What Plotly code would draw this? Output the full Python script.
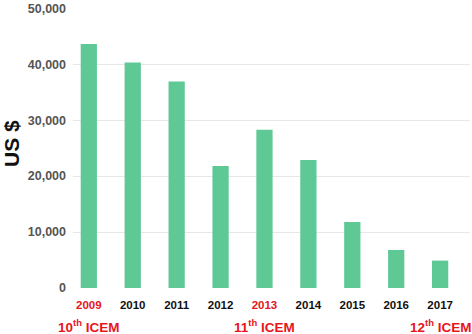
import plotly.graph_objects as go

years = ["2009", "2010", "2011", "2012", "2013", "2014", "2015", "2016", "2017"]
values = [43600, 40300, 36900, 21800, 28300, 22900, 11800, 6800, 4900]
highlight_years = ["2009", "2013"]
y_ticks = [0, 10000, 20000, 30000, 40000, 50000]
y_tick_labels = ["0", "10,000", "20,000", "30,000", "40,000", "50,000"]
icem_labels = ["10<sup>th</sup> ICEM", "11<sup>th</sup> ICEM", "12<sup>th</sup> ICEM"]
icem_years = ["2009", "2013", "2017"]

tick_text = [
    f"<b><span style='color:#e8151b'>{y}</span></b>" if y in highlight_years else f"<b>{y}</b>"
    for y in years
]

fig = go.Figure()
fig.add_trace(go.Bar(
    x=list(range(len(years))), y=values,
    marker=dict(color="#5ec995", line=dict(width=0)),
    width=0.37,
))

for lab, yr in zip(icem_labels, icem_years):
    fig.add_annotation(
        x=years.index(yr), y=0, xref="x", yref="paper",
        text=f"<b>{lab}</b>", showarrow=False,
        yshift=-38, yanchor="middle",
        font=dict(family="Liberation Sans, Arial", size=13.5, color="#e8151b"),
    )

fig.add_annotation(
    x=(11 - 73) / 397, y=(288 - 143) / 282, xref="paper", yref="paper",
    text="<b>US $</b>", textangle=-90, showarrow=False,
    xanchor="center", yanchor="middle",
    font=dict(family="Liberation Sans, Arial", size=21, color="#111111"),
)

fig.update_layout(
    width=472, height=334,
    margin=dict(l=73, r=2, t=6, b=46),
    plot_bgcolor="white", paper_bgcolor="white",
    showlegend=False,
    xaxis=dict(
        range=[-0.36, 8.68],
        tickmode="array", tickvals=list(range(len(years))), ticktext=tick_text,
        tickfont=dict(family="Liberation Sans, Arial", size=11.5, color="#111111"),
        showgrid=False, zeroline=False, showline=False, ticks="",
        ticklabelstandoff=8,
    ),
    yaxis=dict(
        range=[0, 50050],
        tickmode="array", tickvals=y_ticks,
        ticktext=[f"<b>{t}</b>" for t in y_tick_labels],
        tickfont=dict(family="Liberation Sans, Arial", size=12.5, color="#555555"),
        showgrid=True, gridcolor="#e8e8e8", gridwidth=1,
        zeroline=False, ticks="", ticklabelstandoff=6,
        ticklabeloverflow="allow",
    ),
)

fig.write_html(
    "out.html",
    config={"displayModeBar": False},
    post_script="document.body.style.margin='0';document.body.style.overflow='hidden';",
)
